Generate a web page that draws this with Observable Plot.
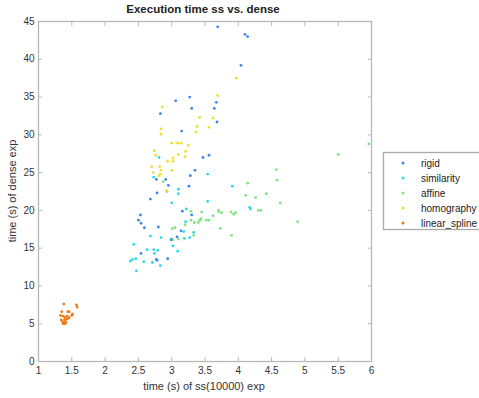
<!DOCTYPE html>
<html>
<head>
<meta charset="utf-8">
<script src="https://cdn.jsdelivr.net/npm/d3@7"></script>
<script src="https://cdn.jsdelivr.net/npm/@observablehq/plot@0.6"></script>
<style>
  html, body { margin: 0; padding: 0; background: #fff; }
  #chart { width: 479px; height: 398px; overflow: hidden; }
  svg { font-family: "Liberation Sans", Arial, sans-serif; }
</style>
</head>
<body>
<div id="chart"></div>
<script>
const title = "Execution time ss vs. dense";
const xLabel = "time (s) of ss(10000) exp";
const yLabel = "time (s) of dense exp";
const xTicks = [1, 1.5, 2, 2.5, 3, 3.5, 4, 4.5, 5, 5.5, 6];
const yTicks = [0, 5, 10, 15, 20, 25, 30, 35, 40, 45];
const seriesNames = ["rigid", "similarity", "affine", "homography", "linear_spline"];
const seriesColors = ["#3a85ee", "#2ad8ee", "#7ee47e", "#eede2a", "#ee7a16"];

const rigid = [[3.69,44.3],[4.10,43.3],[4.14,43.0],[4.04,39.2],[3.67,34.3],[3.27,35.0],[3.06,34.5],[3.30,33.5],[3.64,33.5],[2.83,32.8],[3.68,31.7],[3.15,30.5],[3.47,27.0],[3.56,27.3],[3.35,25.3],[3.28,24.6],[2.77,24.1],[2.91,24.1],[2.95,23.3],[3.26,23.2],[2.78,22.3],[2.68,21.5],[3.16,19.9],[3.30,19.4],[2.53,19.4],[2.50,18.7],[2.54,18.3],[2.59,17.7],[2.80,17.8],[3.14,17.3],[3.08,16.5],[3.00,16.2],[2.99,16.1],[2.54,14.3],[2.77,13.5],[2.78,13.4],[2.94,13.6]];
const similarity = [[2.81,27.0],[2.73,24.4],[3.54,24.8],[3.91,23.2],[3.10,22.8],[3.10,22.2],[3.54,21.2],[3.00,21.0],[4.17,20.4],[4.18,20.2],[3.22,20.2],[3.21,18.5],[3.18,17.2],[3.33,17.1],[2.68,16.6],[2.84,16.4],[3.19,16.3],[3.27,16.4],[3.02,15.3],[2.43,15.5],[2.63,14.8],[2.73,14.8],[2.79,14.7],[2.74,14.3],[3.09,14.6],[2.46,13.6],[2.41,13.5],[2.38,13.3],[2.58,13.2],[2.71,13.1],[2.83,12.7],[2.47,12.0]];
const affine = [[5.96,28.8],[5.50,27.4],[4.57,25.4],[4.58,24.0],[4.14,23.6],[4.11,22.0],[4.26,21.7],[4.42,22.2],[4.63,21.0],[4.30,20.0],[4.34,20.0],[4.89,18.5],[2.87,23.8],[2.93,22.5],[3.29,19.9],[3.45,19.8],[3.70,20.0],[3.71,19.8],[3.75,19.7],[3.89,19.8],[3.93,19.5],[3.96,19.7],[3.62,19.3],[3.29,18.7],[3.44,18.9],[3.42,18.7],[3.20,18.1],[3.34,18.4],[3.40,18.4],[3.52,18.7],[3.56,18.7],[3.01,17.6],[3.05,17.7],[3.73,17.6],[3.90,16.7],[3.02,16.1],[3.10,16.2],[3.33,16.7]];
const homography = [[3.97,37.5],[3.69,35.2],[2.86,33.7],[3.42,32.3],[3.62,32.2],[3.38,31.1],[3.56,31.0],[2.84,30.8],[3.36,30.4],[2.84,30.1],[3.00,28.9],[3.09,28.9],[3.14,28.9],[3.25,28.6],[3.21,27.8],[2.74,27.9],[2.76,27.3],[3.02,26.9],[3.02,26.5],[2.94,26.5],[3.10,27.4],[3.20,27.1],[2.70,25.8],[2.82,25.8],[2.84,25.3],[3.00,25.3],[2.72,25.0],[2.83,24.8],[2.81,24.6],[2.92,22.6]];
const linearSpline = [[1.38,7.6],[1.57,7.5],[1.58,7.2],[1.35,6.6],[1.44,6.6],[1.46,6.6],[1.51,6.3],[1.50,6.1],[1.33,6.1],[1.37,6.0],[1.43,6.0],[1.40,5.8],[1.46,5.8],[1.34,5.5],[1.39,5.5],[1.43,5.6],[1.36,5.25],[1.38,5.1],[1.41,5.2],[1.37,5.0],[1.40,5.0]];

const seriesData = [rigid, similarity, affine, homography, linearSpline];
const points = seriesData.flatMap((arr, i) => arr.map(([x, y]) => ({x, y, s: seriesNames[i]})));
const legendRows = seriesNames.map((name, i) => ({name, i}));

const frameColor = "#b8b8b8";
const textColor = "#333";

const plot = Plot.plot({
  width: 479,
  height: 398,
  marginLeft: 38,
  marginRight: 108,
  marginTop: 21,
  marginBottom: 37,
  style: {fontFamily: "Liberation Sans, Arial, sans-serif", fontSize: "10px", color: textColor, background: "#fff"},
  x: {domain: [1, 6]},
  y: {domain: [0, 45]},
  color: {domain: seriesNames, range: seriesColors},
  marks: [
    Plot.frame({stroke: frameColor, strokeWidth: 1.3}),
    Plot.axisX(xTicks, {anchor: "bottom", ticks: xTicks, tickSize: -4, tickPadding: 9, stroke: frameColor, fill: textColor, label: null, tickFormat: d => String(d)}),
    Plot.axisX(xTicks, {anchor: "top", ticks: xTicks, tickSize: -4, stroke: frameColor, label: null, tickFormat: () => ""}),
    Plot.axisY(yTicks, {anchor: "left", ticks: yTicks, tickSize: -4, tickPadding: 8, stroke: frameColor, fill: textColor, label: null, tickFormat: d => String(d)}),
    Plot.axisY(yTicks, {anchor: "right", ticks: yTicks, tickSize: -4, stroke: frameColor, label: null, tickFormat: () => ""}),
    Plot.dot(points, {x: "x", y: "y", fill: "s", r: 1.4, stroke: "none"})
  ]
});

const svg = d3.select(plot);
svg.append("text")
  .attr("x", 203).attr("y", 13)
  .attr("text-anchor", "middle")
  .attr("font-size", 11.5).attr("font-weight", "bold").attr("fill", "#222")
  .text(title);
svg.append("text")
  .attr("x", 204).attr("y", 390)
  .attr("text-anchor", "middle")
  .attr("font-size", 11).attr("fill", textColor)
  .text(xLabel);
svg.append("text")
  .attr("transform", "translate(16,191) rotate(-90)")
  .attr("text-anchor", "middle")
  .attr("font-size", 11).attr("fill", textColor)
  .text(yLabel);

const lg = svg.append("g").attr("text-anchor", "start");
lg.append("rect")
  .attr("x", 383.5).attr("y", 152.5).attr("width", 110).attr("height", 77)
  .attr("fill", "#fff").attr("stroke", "#aaa").attr("stroke-width", 1.3);
const rows = lg.selectAll("g.row").data(legendRows).join("g")
  .attr("class", "row")
  .attr("transform", d => `translate(0,${163 + d.i * 15})`);
rows.append("circle").attr("cx", 403).attr("cy", 0).attr("r", 1.5)
  .attr("fill", d => seriesColors[d.i]);
rows.append("text").attr("x", 421).attr("y", 0).attr("dy", "0.35em")
  .attr("text-anchor", "start")
  .attr("font-size", 10).attr("fill", "#222").text(d => d.name);

document.getElementById("chart").appendChild(plot);
</script>
</body>
</html>
